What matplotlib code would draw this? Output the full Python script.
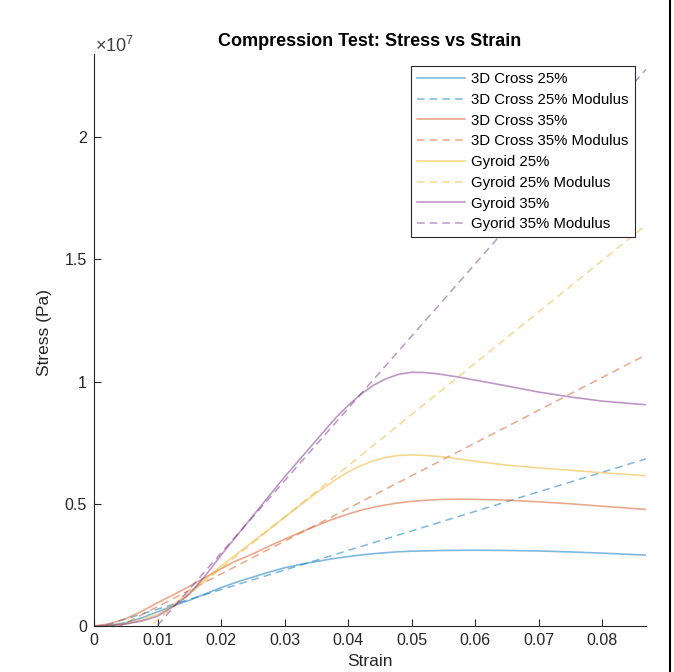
import matplotlib
matplotlib.use("Agg")
import matplotlib.pyplot as plt
from matplotlib.lines import Line2D
from matplotlib.ticker import FuncFormatter

plt.rcParams["font.family"] = ["Liberation Sans", "DejaVu Sans"]
plt.rcParams["mathtext.fontset"] = "custom"
plt.rcParams["mathtext.rm"] = "Liberation Sans"

# measured curves (strain, stress in Pa)
cross25_strain = [0, 0.0025, 0.005, 0.0075, 0.01, 0.0125, 0.015, 0.0175, 0.02, 0.0225, 0.025, 0.0275,
                  0.03, 0.0325, 0.035, 0.0375, 0.04, 0.0425, 0.045, 0.0475, 0.05,
                  0.055, 0.06, 0.065, 0.07, 0.075, 0.08, 0.0869]
cross25_stress = [0, 0.03e6, 0.13e6, 0.33e6, 0.58e6, 0.83e6, 1.05e6, 1.31e6, 1.57e6, 1.8e6, 2.0e6, 2.2e6,
                  2.38e6, 2.52e6, 2.64e6, 2.75e6, 2.84e6, 2.92e6, 2.98e6, 3.03e6, 3.06e6,
                  3.09e6, 3.1e6, 3.09e6, 3.07e6, 3.03e6, 2.98e6, 2.9e6]

cross35_strain = [0, 0.0025, 0.005, 0.0075, 0.01, 0.0125, 0.015, 0.019, 0.022, 0.025, 0.0275, 0.03,
                  0.0325, 0.035, 0.0375, 0.04, 0.0425, 0.045, 0.0475, 0.05, 0.0525,
                  0.055, 0.0575, 0.06, 0.065, 0.07, 0.075, 0.08, 0.0869]
cross35_stress = [0, 0.09e6, 0.3e6, 0.6e6, 0.95e6, 1.28e6, 1.62e6, 2.2e6, 2.62e6, 2.95e6, 3.26e6, 3.55e6,
                  3.83e6, 4.1e6, 4.36e6, 4.58e6, 4.77e6, 4.91e6, 5.02e6, 5.1e6, 5.15e6,
                  5.18e6, 5.19e6, 5.18e6, 5.15e6, 5.08e6, 5.0e6, 4.9e6, 4.77e6]

gyroid25_strain = [0, 0.0025, 0.005, 0.0075, 0.01, 0.0125, 0.015, 0.0175, 0.02, 0.025, 0.03, 0.035,
                   0.038, 0.04, 0.042, 0.044, 0.046, 0.048, 0.05, 0.052, 0.055,
                   0.06, 0.065, 0.07, 0.075, 0.08, 0.0869]
gyroid25_stress = [0, 0.02e6, 0.1e6, 0.25e6, 0.47e6, 0.86e6, 1.38e6, 1.92e6, 2.45e6, 3.45e6, 4.45e6, 5.45e6,
                   5.98e6, 6.3e6, 6.56e6, 6.76e6, 6.9e6, 6.98e6, 7.0e6, 6.98e6, 6.92e6,
                   6.74e6, 6.58e6, 6.47e6, 6.37e6, 6.27e6, 6.15e6]

gyroid35_strain = [0, 0.0025, 0.005, 0.0075, 0.01, 0.0125, 0.015, 0.0175, 0.02, 0.025, 0.03, 0.035,
                   0.038, 0.04, 0.042, 0.044, 0.046, 0.048, 0.05, 0.052, 0.054,
                   0.057, 0.06, 0.065, 0.07, 0.075, 0.08, 0.0869]
gyroid35_stress = [0, 0.02e6, 0.08e6, 0.2e6, 0.4e6, 0.8e6, 1.3e6, 2.05e6, 2.9e6, 4.5e6, 6.1e6, 7.6e6,
                   8.5e6, 9.02e6, 9.48e6, 9.85e6, 10.12e6, 10.3e6, 10.38e6, 10.37e6, 10.32e6,
                   10.2e6, 10.06e6, 9.82e6, 9.57e6, 9.37e6, 9.2e6, 9.05e6]

# modulus fit lines, endpoints at strain 0 and end of test
modulus_strain = [0, 0.0869]
cross25_mod = [-0.11e6, 6.84e6]
cross35_mod = [-0.55e6, 11.09e6]
gyroid25_mod = [-1.85e6, 16.4e6]
gyroid35_mod = [-2.93e6, 22.77e6]

colors = ["#0072BD", "#D95319", "#EDB120", "#7E2F8E"]
ink = "#262626"

fig = plt.figure(figsize=(6.74, 6.72), dpi=100)
ax = fig.add_axes([94 / 674, 46 / 672, 552 / 674, 572 / 672])

series = [
    (cross25_strain, cross25_stress, cross25_mod, "3D Cross 25%", "3D Cross 25% Modulus"),
    (cross35_strain, cross35_stress, cross35_mod, "3D Cross 35%", "3D Cross 35% Modulus"),
    (gyroid25_strain, gyroid25_stress, gyroid25_mod, "Gyroid 25%", "Gyroid 25% Modulus"),
    (gyroid35_strain, gyroid35_stress, gyroid35_mod, "Gyroid 35%", "Gyorid 35% Modulus"),
]
for (x, y, mod, name, mod_name), c in zip(series, colors):
    ax.plot(x, y, color=c, lw=1.2, alpha=0.5, label=name)
    ax.plot(modulus_strain, mod, color=c, lw=1.1, alpha=0.5, ls=(0, (5.0, 3.3)), label=mod_name)

ax.set_xlim(0, 0.0869)
ax.set_ylim(0, 2.34e7)
ax.set_xticks([0, 0.01, 0.02, 0.03, 0.04, 0.05, 0.06, 0.07, 0.08])
ax.set_xticklabels(["0", "0.01", "0.02", "0.03", "0.04", "0.05", "0.06", "0.07", "0.08"])
ax.set_yticks([0, 0.5e7, 1e7, 1.5e7, 2e7])
ax.yaxis.set_major_formatter(FuncFormatter(lambda v, _: f"{v / 1e7:g}"))

for s in ["top", "right"]:
    ax.spines[s].set_visible(False)
for s in ["left", "bottom"]:
    ax.spines[s].set_color(ink)
    ax.spines[s].set_linewidth(0.8)
ax.tick_params(direction="in", length=5, width=0.8, color=ink, labelcolor=ink,
               labelsize=11.5, pad=5)

leg = ax.legend(loc="upper right", bbox_to_anchor=(0.980, 0.979), borderaxespad=0,
                fontsize=10.8, handlelength=3.2, handletextpad=0.4, labelspacing=0.45,
                borderpad=0.4, fancybox=False, framealpha=1, edgecolor=ink)
leg.get_frame().set_linewidth(0.8)

fig.text(370 / 674, 1 - 41 / 672, "Compression Test: Stress vs Strain", ha="center", va="center",
         fontsize=13, fontweight="bold", color="black")
fig.text(95 / 674, 1 - 52 / 672, r"$\times10^{7}$", ha="left", va="baseline", fontsize=13, color="#404040")
fig.text(44 / 674, 1 - 333 / 672, "Stress (Pa)", rotation=90, ha="center", va="center",
         fontsize=12.5, color=ink)
fig.text(370 / 674, 1 - 661 / 672, "Strain", ha="center", va="center", fontsize=12.5, color=ink)

fig.add_artist(Line2D([669.5 / 674] * 2, [0, 1], transform=fig.transFigure, color="black", lw=1.5))

fig.savefig("out.png", dpi=100)
